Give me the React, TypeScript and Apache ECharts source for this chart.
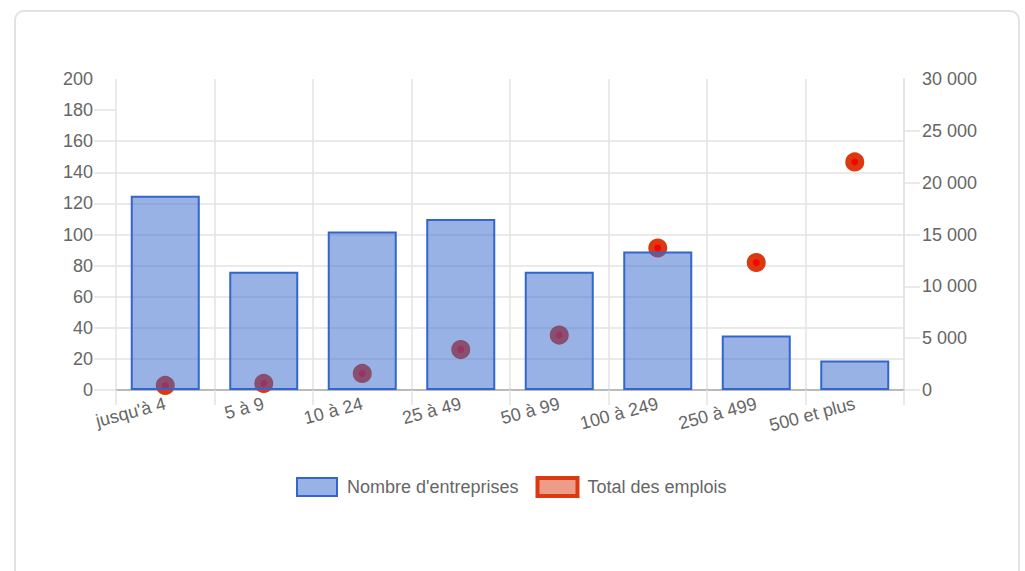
import React, { useEffect, useRef } from "react";
import * as echarts from "echarts";

const categories = ["jusqu'à 4", "5 à 9", "10 à 24", "25 à 49", "50 à 99", "100 à 249", "250 à 499", "500 et plus"];
const entreprises = [125, 76, 102, 110, 76, 89, 35, 19];
const emplois = [440, 630, 1600, 3900, 5300, 13700, 12300, 22000];
const leftTicks = [0, 20, 40, 60, 80, 100, 120, 140, 160, 180];
const rightTicks = [0, 5000, 10000, 15000, 20000, 25000];

const FONT = "'Liberation Sans', Arial, sans-serif";
const GRID = "#e3e3e3";

export default function App() {
  const ref = useRef<HTMLDivElement>(null);
  useEffect(() => {
    if (!ref.current) return;
    const chart = echarts.init(ref.current, null, { renderer: "svg" });
    const fmt = (v: number) => String(v).replace(/\B(?=(\d{3})+(?!\d))/g, " ");
    chart.setOption({
      animation: false,
      textStyle: { fontFamily: FONT },
      grid: { left: 116, top: 79, width: 788, height: 311 },
      legend: {
        left: 296,
        top: 476,
        padding: 0,
        itemWidth: 40,
        itemHeight: 18,
        itemGap: 17,
        textStyle: { fontSize: 18, color: "#666", fontFamily: FONT, padding: [0, 0, 0, 5] },
        data: [
          { name: "Nombre d'entreprises", icon: "rect" },
          {
            name: "Total des emplois",
            icon: "rect",
            itemStyle: { color: "rgba(220,57,18,0.5)", borderColor: "#dc3912", borderWidth: 4 },
          },
        ],
      },
      xAxis: {
        type: "category",
        data: categories,
        boundaryGap: true,
        axisLine: { show: true, lineStyle: { color: "#aaa", width: 1.5 } },
        axisTick: { show: true, length: 15, lineStyle: { color: GRID, width: 1.5 } },
        splitLine: { show: true, lineStyle: { color: GRID, width: 1.5 } },
        axisLabel: { rotate: 15, fontSize: 18, color: "#666", margin: 13, fontFamily: FONT, interval: 0 },
      },
      yAxis: [
        {
          type: "value",
          min: 0,
          max: 200,
          interval: 20,
          position: "left",
          axisLine: { show: false },
          axisTick: { show: true, length: 22, customValues: leftTicks, lineStyle: { color: GRID, width: 1.5 } },
          splitLine: { show: true, showMaxLine: false, lineStyle: { color: GRID, width: 1.5 } },
          axisLabel: { fontSize: 18, color: "#666", margin: 23, fontFamily: FONT },
        },
        {
          type: "value",
          min: 0,
          max: 30000,
          interval: 5000,
          position: "right",
          axisLine: { show: true, lineStyle: { color: GRID, width: 1.5 } },
          axisTick: { show: true, length: 16, customValues: rightTicks, lineStyle: { color: GRID, width: 1.5 } },
          splitLine: { show: false },
          axisLabel: { fontSize: 18, color: "#666", margin: 18, fontFamily: FONT, formatter: (v: number) => fmt(v) },
        },
      ],
      series: [
        {
          name: "Total des emplois",
          type: "scatter",
          yAxisIndex: 1,
          data: emplois,
          symbol: "circle",
          symbolSize: 13,
          z: 1,
          itemStyle: { color: "#ff0000", borderColor: "#dc3912", borderWidth: 6, opacity: 1 },
        },
        {
          name: "Nombre d'entreprises",
          type: "bar",
          yAxisIndex: 0,
          data: entreprises,
          barWidth: 69,
          z: 3,
          itemStyle: { color: "rgba(51,102,204,0.5)", borderColor: "#3366cc", borderWidth: 2 },
        },
      ],
    });
    return () => chart.dispose();
  }, []);
  return (
    <div style={{ position: "fixed", left: 0, top: 0, width: 1025, height: 571, background: "#fff", overflow: "hidden" }}>
      <div
        style={{
          position: "absolute",
          left: 14,
          top: 10,
          width: 1006,
          height: 620,
          border: "2px solid #e2e2e2",
          borderRadius: 10,
          boxSizing: "border-box",
        }}
      />
      <div ref={ref} style={{ position: "absolute", left: 0, top: 0, width: 1025, height: 571 }} />
    </div>
  );
}
